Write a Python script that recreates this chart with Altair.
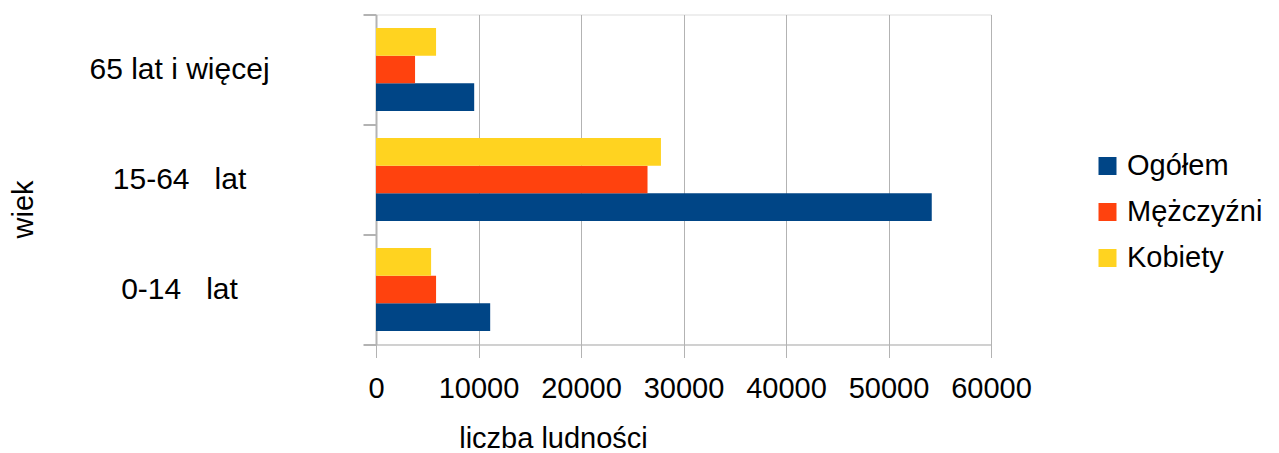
import altair as alt
import pandas as pd

NB = "\u00a0"
ages = ["0-14" + NB * 3 + "lat", "15-64" + NB * 3 + "lat", "65 lat i więcej"]
age_order = ["65 lat i więcej", "15-64" + NB * 3 + "lat", "0-14" + NB * 3 + "lat"]
series = ["Ogółem", "Mężczyźni", "Kobiety"]
ogolem = [11140, 54220, 9580]
mezczyzni = [5860, 26490, 3810]
kobiety = [5375, 27800, 5860]
colors = ["#004586", "#ff420e", "#ffd320"]
x_ticks = [0, 10000, 20000, 30000, 40000, 50000, 60000]

rows = []
for i, a in enumerate(ages):
    rows.append({"wiek": a, "seria": "Ogółem", "v": ogolem[i]})
    rows.append({"wiek": a, "seria": "Mężczyźni", "v": mezczyzni[i]})
    rows.append({"wiek": a, "seria": "Kobiety", "v": kobiety[i]})
df = pd.DataFrame(rows)

FONT = "Liberation Sans"
GRID = "#b3b3b3"

chart = alt.Chart(df).mark_bar().encode(
    x=alt.X(
        "v:Q",
        scale=alt.Scale(domain=[0, 60000], nice=False),
        axis=alt.Axis(
            title="liczba ludności",
            values=x_ticks,
            format="d",
            grid=True,
            gridColor=GRID,
            gridWidth=1,
            domainColor=GRID,
            domainWidth=1,
            tickColor=GRID,
            tickSize=13,
            labelFont=FONT,
            labelFontSize=29,
            labelColor="#000000",
            labelBaseline="alphabetic",
            labelPadding=40,
            labelFlush=False,
            labelOverlap=False,
            titleFont=FONT,
            titleFontSize=29,
            titleFontWeight="normal",
            titleColor="#000000",
            titleX=177,
            titleY=103,
            titleAlign="center",
            titleBaseline="alphabetic",
        ),
    ),
    y=alt.Y(
        "wiek:N",
        sort=age_order,
        scale=alt.Scale(paddingInner=0, paddingOuter=0),
        axis=alt.Axis(
            title="wiek",
            tickBand="extent",
            grid=False,
            domainColor=GRID,
            domainWidth=2,
            tickColor=GRID,
            tickWidth=2,
            tickSize=13,
            labelFont=FONT,
            labelFontSize=30,
            labelColor="#000000",
            labelAlign="center",
            labelBaseline="middle",
            labelPadding=184,
            labelLimit=400,
            titleFont=FONT,
            titleFontSize=29,
            titleFontWeight="normal",
            titleColor="#000000",
            titleAngle=270,
            titleX=-353,
            titleY=194.5,
            titleAlign="center",
            titleBaseline="middle",
        ),
    ),
    yOffset=alt.YOffset(
        "seria:N",
        sort=["Kobiety", "Mężczyźni", "Ogółem"],
        scale=alt.Scale(paddingInner=0, paddingOuter=0.488),
    ),
    color=alt.Color(
        "seria:N",
        scale=alt.Scale(domain=series, range=colors),
        legend=alt.Legend(
            title=None,
            orient="none",
            legendX=717,
            legendY=137,
            symbolType="square",
            symbolSize=324,
            symbolStrokeWidth=0,
            symbolOpacity=1,
            labelFont=FONT,
            labelFontSize=29,
            labelColor="#000000",
            labelOffset=5,
            labelLimit=400,
            rowPadding=16,
            padding=0,
        ),
    ),
).properties(
    width=615,
    height=330,
    autosize=alt.AutoSizeParams(type="none"),
    padding={"left": 368, "top": 6.5, "right": 280, "bottom": 108},
).configure_view(
    stroke=GRID, strokeWidth=1
).configure(background="#ffffff")

chart.save("out.html", embed_options={"renderer": "svg", "actions": False})
